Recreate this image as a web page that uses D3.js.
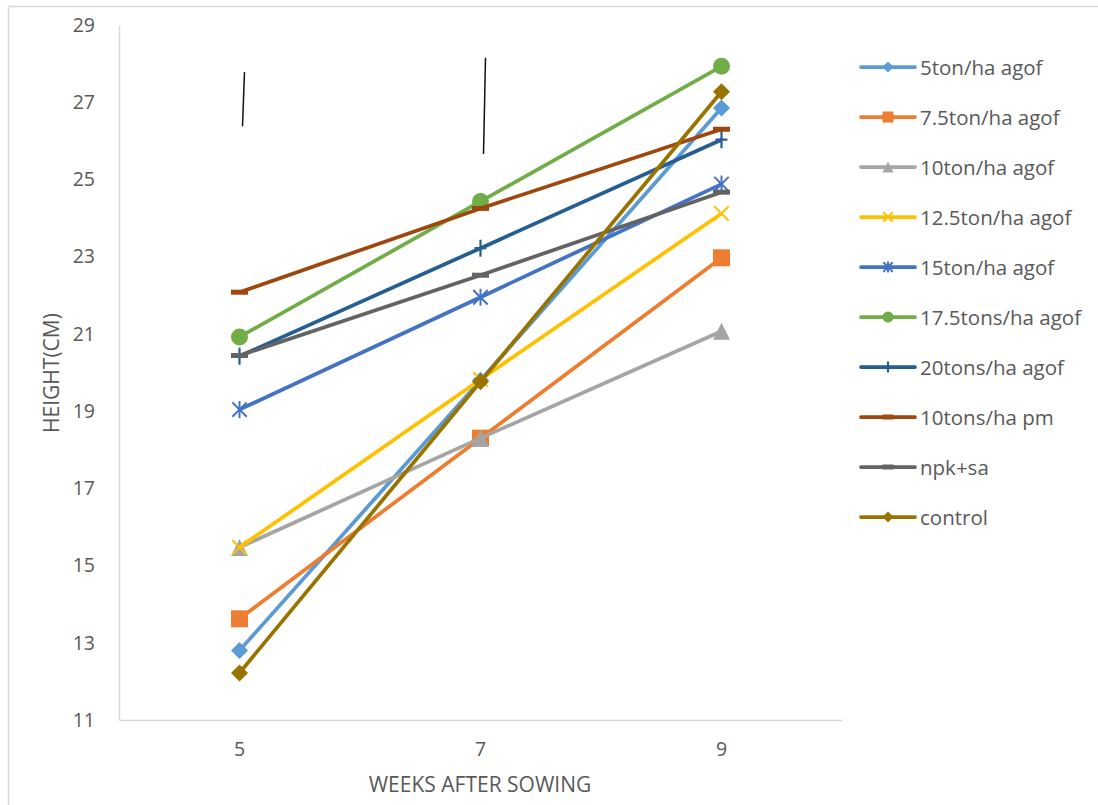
<!DOCTYPE html>
<html>
<head>
<meta charset="utf-8">
<script src="https://cdn.jsdelivr.net/npm/d3@7"></script>
<style>
  body { margin: 0; background: #fff; }
  text { font-family: "Open Sans", sans-serif; }
</style>
</head>
<body>
<div id="chart"></div>
<script>
// weeks after sowing
const weeks = ["5", "7", "9"];

// series names
const seriesNames = [
    "5ton/ha agof", "7.5ton/ha agof", "10ton/ha agof", "12.5ton/ha agof", "15ton/ha agof",
    "17.5tons/ha agof", "20tons/ha agof", "10tons/ha pm", "npk+sa", "control"
];

// plant height (cm) per series, weeks 5, 7, 9
const agof5 = [12.8, 19.8, 26.85];
const agof75 = [13.62, 18.3, 22.97];
const agof10 = [15.47, 18.3, 21.07];
const agof125 = [15.47, 19.82, 24.12];
const agof15 = [19.04, 21.95, 24.88];
const agof175 = [20.92, 24.43, 27.93];
const agof20 = [20.42, 23.22, 26.03];
const pm10 = [22.08, 24.25, 26.3];
const npksa = [20.44, 22.52, 24.67];
const control = [12.22, 19.76, 27.27];

const seriesValues = [agof5, agof75, agof10, agof125, agof15, agof175, agof20, pm10, npksa, control];

const colors = ["#5B9BD5", "#ED7D31", "#A5A5A5", "#FFC000", "#4472C4",
    "#70AD47", "#255E91", "#9E480E", "#636363", "#997300"];
const markers = ["diamond", "square", "triangle", "x", "star", "circle", "plus", "dash", "dash", "diamond"];

// y-axis ticks
const yTicks = [11, 13, 15, 17, 19, 21, 23, 25, 27, 29];

// stray pen strokes on the original figure: [week, top value, bottom value, drift]
const strokes = [["5", 27.78, 26.38, 2], ["7", 28.15, 25.66, 2]];

const width = 1098, height = 805;
const textColor = "#595959";
const axisColor = "#D9D9D9";

const svg = d3.select("#chart").append("svg")
    .attr("width", width)
    .attr("height", height);

// chart border
svg.append("rect")
    .attr("x", 8.5).attr("y", 6.5)
    .attr("width", 1100).attr("height", 820)
    .attr("fill", "none")
    .attr("stroke", axisColor)
    .attr("stroke-width", 1.5);

const x = d3.scaleBand().domain(weeks).range([119, 842]);
const y = d3.scaleLinear().domain([11, 29]).range([720, 25]);
const cx = w => x(w) + x.bandwidth() / 2;

// y axis
svg.append("g")
    .attr("transform", "translate(119,0)")
    .call(d3.axisLeft(y).tickValues(yTicks).tickSize(0).tickPadding(24))
    .call(g => g.select(".domain").attr("stroke", axisColor).attr("stroke-width", 1.5))
    .call(g => g.selectAll("text").attr("fill", textColor).attr("font-size", 19.5)
        .attr("font-family", "Open Sans, sans-serif"));

// x axis
svg.append("g")
    .attr("transform", "translate(0,720)")
    .call(d3.axisBottom(x).tickSize(0).tickPadding(22))
    .call(g => g.select(".domain").attr("stroke", axisColor).attr("stroke-width", 1.5))
    .call(g => g.selectAll("text").attr("fill", textColor).attr("font-size", 19.5)
        .attr("font-family", "Open Sans, sans-serif"));

// axis titles
svg.append("text")
    .attr("transform", "translate(51,373) rotate(-90)")
    .attr("text-anchor", "middle")
    .attr("dominant-baseline", "central")
    .attr("fill", textColor)
    .attr("font-size", 21)
    .text("HEIGHT(CM)");

svg.append("text")
    .attr("x", 480).attr("y", 784)
    .attr("text-anchor", "middle")
    .attr("dominant-baseline", "central")
    .attr("fill", textColor)
    .attr("font-size", 21)
    .text("WEEKS AFTER SOWING");

// draw a marker centred at the origin of g
function drawMarker(g, type, s, color) {
    const h = s / 2;
    if (type === "diamond") {
        g.append("path").attr("d", `M0,${-h}L${h},0L0,${h}L${-h},0Z`).attr("fill", color);
    } else if (type === "square") {
        g.append("rect").attr("x", -h).attr("y", -h).attr("width", s).attr("height", s).attr("fill", color);
    } else if (type === "triangle") {
        g.append("path").attr("d", `M0,${-h}L${h},${h}L${-h},${h}Z`).attr("fill", color);
    } else if (type === "circle") {
        g.append("circle").attr("r", h).attr("fill", color);
    } else if (type === "x" || type === "star") {
        const k = h * 0.85;
        g.append("path").attr("d", `M${-k},${-k}L${k},${k}M${-k},${k}L${k},${-k}`)
            .attr("stroke", color).attr("stroke-width", 2).attr("fill", "none");
        if (type === "star") {
            g.append("path").attr("d", `M0,${-h}L0,${h}`)
                .attr("stroke", color).attr("stroke-width", 2);
        }
    } else if (type === "plus") {
        g.append("path").attr("d", `M0,${-h}L0,${h}M${-h * 0.7},0L${h * 0.7},0`)
            .attr("stroke", color).attr("stroke-width", 2.2).attr("fill", "none");
    } else if (type === "dash") {
        g.append("rect").attr("x", -h).attr("y", -2.5).attr("width", s).attr("height", 5).attr("fill", color);
    }
}

const line = d3.line().x((d, i) => cx(weeks[i])).y(d => y(d));

// draw series: first series at the bottom, control on top
seriesValues.forEach((vals, si) => {
    const g = svg.append("g");
    g.append("path")
        .datum(vals)
        .attr("d", line)
        .attr("fill", "none")
        .attr("stroke", colors[si])
        .attr("stroke-width", 3.75)
        .attr("stroke-linejoin", "round");
    vals.forEach((v, i) => {
        const m = g.append("g").attr("transform", `translate(${cx(weeks[i])},${y(v)})`);
        drawMarker(m, markers[si], 17, colors[si]);
    });
});

// stray pen strokes
strokes.forEach(([w, top, bottom, drift]) => {
    svg.append("line")
        .attr("x1", cx(w) + 3 + drift).attr("y1", y(top))
        .attr("x2", cx(w) + 3).attr("y2", y(bottom))
        .attr("stroke", "#111")
        .attr("stroke-width", 1.5);
});

// legend
const legend = svg.append("g").attr("transform", "translate(861,67)");
seriesNames.forEach((name, i) => {
    const row = legend.append("g").attr("transform", `translate(0,${i * 50})`);
    row.append("line")
        .attr("x1", 0).attr("x2", 54)
        .attr("stroke", colors[i])
        .attr("stroke-width", 3.75)
        .attr("stroke-linecap", "round");
    const m = row.append("g").attr("transform", "translate(27,0)");
    drawMarker(m, markers[i], 11, colors[i]);
    row.append("text")
        .attr("x", 59)
        .attr("dominant-baseline", "central")
        .attr("fill", textColor)
        .attr("font-size", 20.5)
        .text(name);
});
</script>
</body>
</html>
